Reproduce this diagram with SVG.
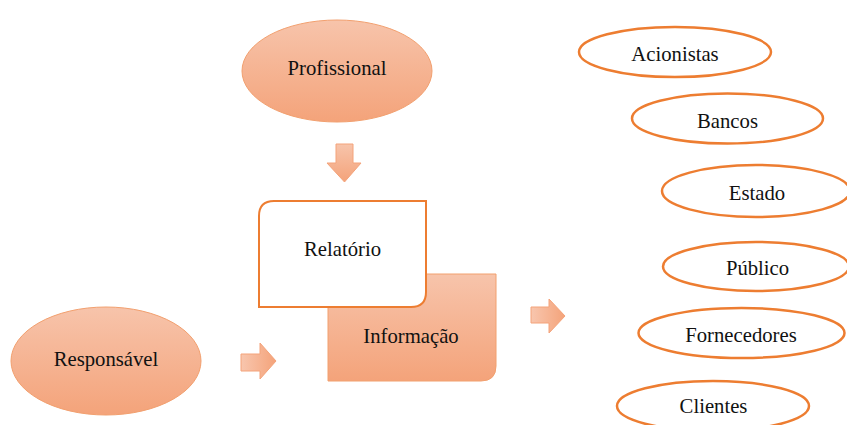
<svg xmlns="http://www.w3.org/2000/svg" width="847" height="425" viewBox="0 0 847 425">
<defs>
<linearGradient id="gv" x1="0" y1="0" x2="0" y2="1">
<stop offset="0" stop-color="#f7c4ab"/>
<stop offset="1" stop-color="#f4a37a"/>
</linearGradient>
<linearGradient id="gh" x1="0" y1="0" x2="1" y2="0">
<stop offset="0" stop-color="#f8c6ae"/>
<stop offset="1" stop-color="#f4a37a"/>
</linearGradient>
<style>
.fill{fill:url(#gv);stroke:#f2a06f;stroke-width:1}
.out{fill:#fff;stroke:#ed7d31;stroke-width:2.5}
.box{fill:#fff;stroke:#ed7d31;stroke-width:2}
.arr{stroke:#f4a37a;stroke-width:1}
text{font-family:"Liberation Serif","Times New Roman",serif;font-size:20.7px;fill:#111;text-anchor:middle}
</style>
</defs>
<rect width="847" height="425" fill="#fff"/>
<g id="profissional">
<ellipse class="fill" cx="337" cy="71" rx="95" ry="51"/>
<text x="337" y="75">Profissional</text>
</g>
<g id="informacao">
<path class="fill" d="M328 274H496V366Q496 381 481 381H328Z"/>
<text x="411" y="343">Informação</text>
</g>
<g id="relatorio">
<path class="box" d="M274 201H426V292Q426 307 411 307H259V216Q259 201 274 201Z"/>
<text x="342.5" y="256">Relatório</text>
</g>
<g id="responsavel">
<ellipse class="fill" cx="106" cy="361" rx="95" ry="54"/>
<text x="106" y="366">Responsável</text>
</g>
<g id="connectors">
<path class="arr" fill="url(#gv)" d="M336 144H353V163H361L344.5 182L327 163H336Z"/>
<path class="arr" fill="url(#gh)" d="M241 354H260V343L276 361L260 379V371H241Z"/>
<path class="arr" fill="url(#gh)" d="M531 307H549V299L565 316L549 333V323H531Z"/>
</g>
<g id="acionistas">
<ellipse class="out" cx="675" cy="52" rx="96" ry="25"/>
<text x="675" y="61">Acionistas</text>
</g>
<g id="bancos">
<ellipse class="out" cx="727.5" cy="118.5" rx="95.5" ry="25"/>
<text x="727.5" y="128">Bancos</text>
</g>
<g id="estado">
<ellipse class="out" cx="756" cy="191" rx="94" ry="26"/>
<text x="757" y="200">Estado</text>
</g>
<g id="publico">
<ellipse class="out" cx="756" cy="266.5" rx="93" ry="24.5"/>
<text x="757.5" y="275">Público</text>
</g>
<g id="fornecedores">
<ellipse class="out" cx="741.5" cy="333" rx="103" ry="25"/>
<text x="741" y="342">Fornecedores</text>
</g>
<g id="clientes">
<ellipse class="out" cx="713" cy="406" rx="96" ry="25"/>
<text x="713.5" y="413">Clientes</text>
</g>
</svg>
